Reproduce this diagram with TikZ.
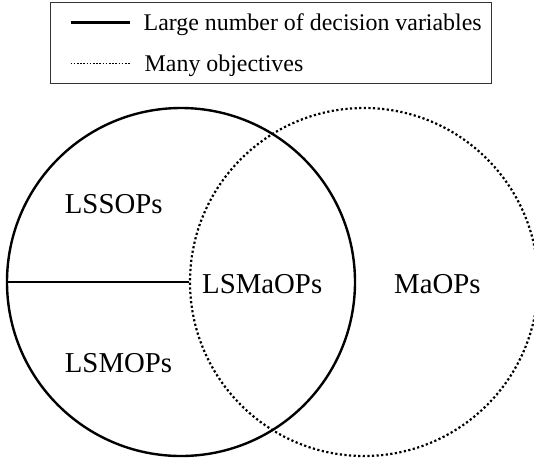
\documentclass[tikz,border=0pt]{standalone}
\usepackage{fontspec}
\setmainfont{Liberation Serif}
\begin{document}
\begin{tikzpicture}[x=1pt, y=-1pt,
    legendtext/.style={anchor=base west, inner sep=0pt, font=\fontsize{23.9}{28}\selectfont},
    setlabel/.style={anchor=base west, inner sep=0pt, font=\fontsize{28.8}{34}\selectfont},
    setcircle/.style={draw, circle, inner sep=0pt, minimum size=348pt}]
    \useasboundingbox (0,0) rectangle (534,461);

    % Legend
    \node[draw=black!80, line width=1.2pt, rectangle, anchor=north west, minimum width=441pt, minimum height=80.5pt] (legend) at (49.5,2) {};
    \coordinate (solidA) at (70.5,22.7);
    \coordinate (solidB) at (129.5,22.7);
    \coordinate (dotA) at (70.5,63.5);
    \coordinate (dotB) at (129.5,63.5);
    \node[legendtext] (solidtxt) at (143.5,30.7) {Large number of decision variables};
    \node[legendtext] (dottxt) at (144.5,71.7) {Many objectives};

    % Sets
    \node[setcircle, line width=2.4pt] (lscircle) at (181,282) {};
    \node[setcircle, line width=2.2pt, dash pattern=on 2.2pt off 2.4pt] (macircle) at (364,282) {};
    \node[setlabel] (lssop) at (64.7,213.3) {LSSOPs};
    \node[setlabel] (lsmop) at (64.7,372.3) {LSMOPs};
    \node[setlabel] (lsmaop) at (202,293.3) {LSMaOPs};
    \node[setlabel] (maop) at (394,293.3) {MaOPs};

    % Lines
    \draw[line width=3pt] (solidA) -- (solidB);
    \draw[line width=1.6pt, dash pattern=on 1.6pt off 1.6pt] (dotA) -- (dotB);
    \draw[line width=2.8pt] (lscircle.west) -- (macircle.west);
\end{tikzpicture}
\end{document}
